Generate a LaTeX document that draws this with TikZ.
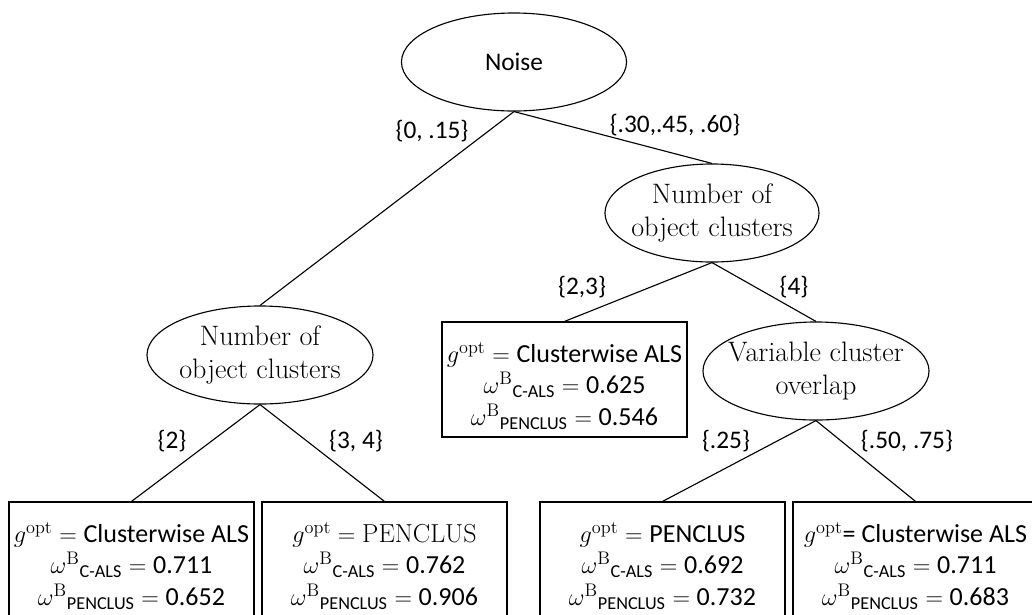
\documentclass[tikz,border=0pt]{standalone}
\usepackage{amsmath}
\usepackage{fontspec}
\setsansfont{Carlito}
\usepackage{tikz}
\usetikzlibrary{shapes}
\usetikzlibrary{positioning}

\newcommand{\leaftop}{\rule{0pt}{23pt}}
\newcommand{\gopt}{$g^{\mathrm{opt}} = {}$}
\newcommand{\omegaB}[2]{$\omega^{\mathrm{B}}{}_{\text{#1}} = {}$#2}

\tikzset{
  factor/.style={ellipse, draw, inner xsep=-13pt, inner ysep=0pt, align=center,
    minimum height=2.45cm, font=\rmfamily\fontsize{20}{23}\selectfont},
  leaf/.style={rectangle, draw, inner sep=0pt, align=center,
    minimum width=6.125cm, minimum height=2.875cm,
    font=\sffamily\fontsize{18.5}{22.5}\selectfont},
  split/.style={inner sep=0pt, font=\sffamily\fontsize{18}{22}\selectfont}
}

\begin{document}
\begin{tikzpicture}[x=0.025cm, y=-0.025cm, line width=0.8pt]
        \clip (0,0) rectangle (1032,614);
        % splitting variables
        \node[factor, minimum width=5.625cm, font=\sffamily\fontsize{18}{22}\selectfont] (noise) at (514,62) {Noise};
        \node[factor, minimum width=5.35cm] (objR) at (712,213) {Number of\\object clusters};
        \node[factor, minimum width=5.65cm] (objL) at (260,355) {Number of\\object clusters};
        \node[factor, minimum width=5.65cm] (overlap) at (816,371) {Variable cluster\\overlap};

        % terminal nodes
        \node[leaf] (leafA) at (564.5,379.5) {\leaftop\gopt Clusterwise ALS\\ \omegaB{C-ALS}{0.625}\\ \omegaB{PENCLUS}{0.546}};
        \node[leaf] (leafB) at (131.5,559.5) {\leaftop\gopt Clusterwise ALS\\ \omegaB{C-ALS}{0.711}\\ \omegaB{PENCLUS}{0.652}};
        \node[leaf] (leafC) at (384.5,559.5) {\leaftop$g^{\mathrm{opt}} = \mathrm{PENCLUS}$\\ \omegaB{C-ALS}{0.762}\\ \omegaB{PENCLUS}{0.906}};
        \node[leaf] (leafD) at (662.5,559.5) {\leaftop\gopt PENCLUS\\ \omegaB{C-ALS}{0.692}\\ \omegaB{PENCLUS}{0.732}};
        \node[leaf] (leafE) at (915.5,559.5) {\leaftop$g^{\mathrm{opt}}$= Clusterwise ALS\\ \omegaB{C-ALS}{0.711}\\ \omegaB{PENCLUS}{0.683}};

        % branches
        \draw (noise.south) -- (objL.north);
        \draw (noise.south) -- (objR.north);
        \draw (objR.south) -- (leafA.north);
        \draw (objR.south) -- (overlap.north);
        \draw (objL.south) -- (leafB.north);
        \draw (objL.south) -- (leafC.north);
        \draw (overlap.south) -- (leafD.north);
        \draw (overlap.south) -- (leafE.north);

        % split values
        \node[split] (s1) at (432,131) {\{0, .15\}};
        \node[split] (s2) at (675,125) {\{.30,.45, .60\}};
        \node[split] (s3) at (582,287) {\{2,3\}};
        \node[split] (s4) at (794,287) {\{4\}};
        \node[split] (s5) at (172,441) {\{2\}};
        \node[split] (s6) at (356,441) {\{3, 4\}};
        \node[split] (s7) at (726,441) {\{.25\}};
        \node[split] (s8) at (907,441) {\{.50, .75\}};
    \end{tikzpicture}
\end{document}
